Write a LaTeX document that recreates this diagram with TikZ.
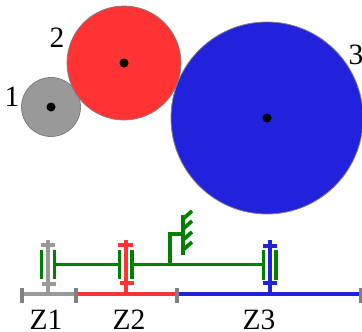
\documentclass[tikz,border=0pt]{standalone}
\usepackage{fontspec}
\setmainfont{Liberation Serif}
\definecolor{cgray}{HTML}{999999}
\definecolor{cred}{HTML}{FF3333}
\definecolor{cblue}{HTML}{2222DD}
\definecolor{cgreen}{HTML}{008000}
\definecolor{cedge}{HTML}{808080}
\tikzset{
  gear/.style={circle,draw=cedge,line width=0.8pt,inner sep=0pt,minimum size=#1},
  hub/.style={circle,fill=black,inner sep=0pt,minimum size=9pt},
  lbl/.style={font=\fontsize{29.5}{29.5}\selectfont,anchor=base,inner sep=0pt},
  part/.style={line width=3.7pt,draw=#1},
  tick/.style={line width=3.7pt,draw=cedge},
  link/.style={line width=3.7pt,draw=cgreen}
}
\begin{document}
\begin{tikzpicture}[x=1pt,y=-1pt]
\useasboundingbox (0,0) rectangle (362,332);
% gears
\node[gear=59pt,fill=cgray] (g1) at (51,107) {};
\node[gear=114pt,fill=cred] (g2) at (124,63) {};
\node[gear=192pt,fill=cblue] (g3) at (267,118) {};
\node[hub] (h1) at (g1) {};
\node[hub] (h2) at (g2) {};
\node[hub] (h3) at (g3) {};
\node[lbl] (n1) at (12,106) {1};
\node[lbl] (n2) at (57,47.5) {2};
\node[lbl] (n3) at (356,64) {3};
% base line
\coordinate (b0) at (22,294);
\coordinate (b1) at (76,294);
\coordinate (b2) at (177,294);
\coordinate (b3) at (361,294);
\coordinate (s1) at (48,294);
\coordinate (s2) at (126,294);
\coordinate (s3) at (270,294);
% shafts
\coordinate (s1t) at (48,240);
\coordinate (s2t) at (126,240);
\coordinate (s3t) at (270,240);
\draw[part=cgray] (s1t) -- (s1);
\draw[part=cred] (s2t) -- (s2);
\draw[part=cblue] (s3t) -- (s3);
\draw[part=cgray] (41,245) -- (55,245) (42,284) -- (56,284);
\draw[part=cred] (118,245) -- (133,245) (120,283) -- (134,283);
\draw[part=cblue] (263,246) -- (277,246) (263,283) -- (277,283);
\draw[part=cgray] (b0) -- (b1);
\draw[part=cred] (b1) -- (b2);
\draw[part=cblue] (b2) -- (b3);
\draw[tick] (22,288) -- (22,303) (76,288) -- (76,303) (177,288) -- (177,303) (361,288) -- (361,303);
% carrier
\coordinate (c1) at (55,264.5);
\coordinate (c2) at (119.5,264.5);
\coordinate (c3) at (132,264.5);
\coordinate (c4) at (263,264.5);
\coordinate (c5) at (170,264.5);
\coordinate (c6) at (170,234);
\coordinate (c7) at (183,234);
\draw[link] (c1) -- (c2) (c3) -- (c4);
\draw[link] (c5) -- (c6) -- (c7);
\draw[link] (41.5,250) -- (41.5,279) (54.5,250) -- (54.5,279);
\draw[link] (119.5,250) -- (119.5,279) (132,250) -- (132,279);
\draw[link] (263.5,250) -- (263.5,280) (276,250) -- (276,280);
\draw[link] (183,215) -- (183,255);
\draw[link] (183,219) -- (192,211) (183,229) -- (192,221) (183,240) -- (192,232) (183,250) -- (192,242);
% zone labels
\node[lbl] (z1) at (46,329.5) {Z1};
\node[lbl] (z2) at (129,329.5) {Z2};
\node[lbl] (z3) at (259,329.5) {Z3};
\end{tikzpicture}
\end{document}
